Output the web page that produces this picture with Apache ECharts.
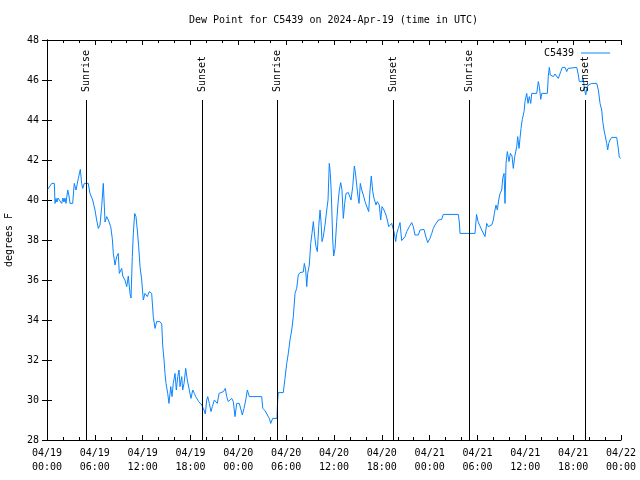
<!DOCTYPE html>
<html>
<head>
<meta charset="utf-8">
<script src="https://cdn.jsdelivr.net/npm/echarts@6/dist/echarts.min.js"></script>
<style>html,body{margin:0;padding:0;background:#fff}#c{width:640px;height:480px}</style>
</head>
<body>
<div id="c"></div>
<script>
// hours since 2024-04-19 00:00 UTC
const hours = [0.10,0.59,0.92,1.00,1.13,1.25,1.38,1.63,1.84,2.01,2.13,2.26,2.38,2.60,2.76,2.89,3.22,3.42,3.64,3.93,4.18,4.35,4.48,4.68,5.18,5.39,5.73,6.02,6.23,6.44,6.65,6.86,7.06,7.28,7.49,7.69,7.99,8.19,8.32,8.53,8.74,8.94,9.07,9.37,9.50,9.78,10.00,10.20,10.41,10.54,10.70,10.83,11.00,11.16,11.33,11.50,11.67,11.88,12.08,12.29,12.58,12.83,13.13,13.33,13.55,13.76,14.17,14.39,14.51,14.68,14.80,14.93,15.14,15.30,15.52,15.68,15.84,16.06,16.22,16.40,16.56,16.68,16.90,17.02,17.19,17.40,17.60,17.85,18.06,18.28,18.48,18.65,18.85,19.03,19.19,19.41,19.69,19.86,20.03,20.16,20.36,20.57,20.74,20.99,21.20,21.36,21.58,21.83,22.12,22.37,22.54,22.74,22.96,23.17,23.37,23.58,23.80,24.12,24.34,24.50,24.71,24.93,25.13,25.38,26.93,27.06,27.35,27.64,27.89,28.06,28.31,28.85,28.91,29.01,29.64,29.85,30.07,30.27,30.48,30.70,30.90,31.11,31.32,31.52,31.74,31.95,32.15,32.28,32.45,32.58,32.70,32.90,33.08,33.24,33.41,33.58,33.74,33.91,34.08,34.25,34.37,34.50,34.66,34.87,35.09,35.25,35.41,35.54,35.66,35.84,35.96,36.13,36.34,36.50,36.67,36.84,37.00,37.17,37.34,37.51,37.80,38.01,38.13,38.35,38.55,38.67,38.85,39.01,39.14,39.30,39.48,39.68,39.89,40.10,40.35,40.52,40.68,40.86,41.02,41.27,41.43,41.68,41.86,42.02,42.27,42.52,42.69,42.86,43.03,43.24,43.44,43.57,43.74,43.87,44.07,44.28,44.49,44.69,44.91,45.12,45.45,45.75,45.95,46.16,46.58,46.79,47.00,47.29,47.50,47.75,48.04,48.26,48.46,48.67,49.09,49.51,49.71,51.59,51.72,51.81,53.69,53.88,54.07,54.23,54.53,54.73,54.94,55.16,55.36,55.57,55.78,55.99,56.11,56.32,56.49,56.66,56.83,57.04,57.16,57.33,57.45,57.58,57.74,57.95,58.12,58.33,58.49,58.67,58.83,58.92,59.04,59.21,59.33,59.46,59.62,59.84,59.96,60.17,60.34,60.50,60.68,60.80,61.43,61.63,61.76,61.93,62.06,62.76,62.88,63.01,63.13,63.31,63.51,63.72,63.94,64.14,64.26,64.44,64.64,64.98,65.19,65.35,65.60,66.45,66.65,66.77,67.07,67.27,67.40,67.58,67.70,67.90,68.11,68.33,68.96,69.16,69.37,69.58,69.71,69.87,70.08,70.21,70.33,70.46,70.62,70.84,71.46,71.63,71.79,71.97];
const dewF = [40.54,40.83,40.83,39.83,40.08,39.9,40.1,40.1,39.83,40.1,39.9,40.1,39.83,40.5,40.2,39.83,39.83,40.83,40.5,41.08,41.53,40.83,40.58,40.83,40.83,40.33,40.0,39.5,39.0,38.58,38.75,39.67,40.83,38.9,39.17,39.0,38.67,38.08,37.33,36.75,37.17,37.33,36.33,36.58,36.2,36.0,35.67,36.2,35.33,35.1,37.17,38.33,39.33,39.17,38.5,37.67,36.67,36.0,35.0,35.33,35.17,35.42,35.33,34.17,33.58,33.92,33.92,33.8,32.75,32.0,31.33,30.83,30.33,29.83,30.67,30.17,30.83,31.33,30.5,31.17,31.5,30.67,31.17,30.5,30.83,31.58,31.0,30.5,30.08,30.5,30.33,30.17,30.17,29.92,29.83,29.75,29.5,29.3,30.0,30.17,29.83,29.42,29.67,30.0,30.08,29.83,30.33,30.33,30.42,30.58,30.17,29.92,29.83,30.08,29.92,29.17,29.83,29.83,29.5,29.25,29.58,30.0,30.5,30.17,30.17,29.58,29.47,29.25,29.08,28.83,29.08,29.08,29.8,30.37,30.37,31.08,31.83,32.33,33.0,33.5,34.17,35.33,35.58,36.25,36.37,36.4,36.4,36.83,36.5,35.67,36.33,36.75,37.83,38.33,38.92,38.17,37.67,37.42,38.67,39.5,38.92,37.92,38.17,38.75,39.5,40.0,41.83,41.33,40.33,38.0,37.2,37.58,38.92,39.83,40.5,40.87,40.5,39.08,39.83,40.33,40.37,40.33,40.0,40.67,41.7,41.42,40.75,40.17,39.83,40.83,40.5,40.25,39.92,39.83,39.42,40.5,41.2,40.42,40.08,39.75,39.92,39.75,39.0,39.67,39.5,39.25,39.0,38.67,38.58,38.83,38.9,38.33,37.92,38.33,38.58,38.87,37.97,37.97,38.17,38.42,38.67,38.87,38.67,38.25,38.25,38.5,38.53,38.53,38.2,37.87,38.08,38.33,38.58,38.75,39.0,39.03,39.28,39.28,38.9,38.33,38.33,39.28,38.92,38.83,38.5,38.42,38.17,38.83,38.67,38.67,38.75,39.0,39.33,39.75,39.5,40.0,40.33,40.5,41.08,41.33,39.83,41.83,42.42,41.92,42.33,42.2,41.58,42.17,42.2,42.67,43.17,42.58,43.08,43.58,44.03,44.42,44.92,45.33,44.83,45.17,44.83,45.33,45.33,45.92,45.67,45.03,45.33,45.33,46.17,46.63,46.25,46.33,46.17,46.3,46.33,46.08,46.17,46.42,46.63,46.63,46.42,46.58,46.63,46.63,46.25,45.92,45.92,46.08,45.58,45.25,45.58,45.75,45.7,45.83,45.83,45.5,44.83,44.5,43.92,43.5,43.42,42.83,42.5,42.83,43.0,43.13,43.13,42.67,42.13,42.08];
const xTickLabels = ['04/19\n00:00','04/19\n06:00','04/19\n12:00','04/19\n18:00','04/20\n00:00','04/20\n06:00','04/20\n12:00','04/20\n18:00','04/21\n00:00','04/21\n06:00','04/21\n12:00','04/21\n18:00','04/22\n00:00'];
const sunTimes = [4.92, 19.43, 28.90, 43.45, 52.88, 67.47];
const sunLabels = ['Sunrise','Sunset','Sunrise','Sunset','Sunrise','Sunset'];
const seriesName = 'C5439';
const titleText = 'Dew Point for C5439 on 2024-Apr-19 (time in UTC)';
const yName = 'degrees F';

const FONT = 'DejaVu Sans Mono';
const lineData = hours.map((h, i) => [h, dewF[i]]);
const sunData = sunTimes.map((t, i) => [t, 45, i]);

const chart = echarts.init(document.getElementById('c'), null, {renderer: 'canvas'});
const baseX = {
  type: 'value', min: 0, max: 72, interval: 6,
  axisLine: {show: true, lineStyle: {color: '#000', width: 1}},
  axisTick: {show: true, inside: true, length: 5, lineStyle: {color: '#000'}},
  minorTick: {show: true, splitNumber: 3, length: 3, lineStyle: {color: '#000'}},
  splitLine: {show: false}
};
const baseY = {
  type: 'value', min: 28, max: 48, interval: 2,
  axisLine: {show: true, lineStyle: {color: '#000', width: 1}},
  axisTick: {show: true, inside: true, length: 5, lineStyle: {color: '#000'}},
  splitLine: {show: false}
};
chart.setOption({
  animation: false,
  backgroundColor: '#fff',
  title: {
    text: titleText, left: 189, top: 15, padding: 0,
    textStyle: {fontFamily: FONT, fontSize: 10, fontWeight: 'normal', color: '#000'}
  },
  legend: {
    data: [seriesName], right: 25, top: 43, align: 'right',
    icon: 'rect', itemWidth: 29, itemHeight: 1, itemGap: 0,
    textStyle: {fontFamily: FONT, fontSize: 10, color: '#000', padding: [0, 2, 0, 0]}
  },
  grid: {left: 47, right: 19, top: 40, bottom: 40, containLabel: false, outerBoundsMode: 'none'},
  xAxis: [
    Object.assign({}, baseX, {
      position: 'bottom',
      axisLabel: {
        fontFamily: FONT, fontSize: 10, color: '#000', lineHeight: 14, margin: 6,
        formatter: v => xTickLabels[Math.round(v / 6)]
      }
    }),
    Object.assign({}, baseX, {position: 'top', axisLabel: {show: false}})
  ],
  yAxis: [
    Object.assign({}, baseY, {
      position: 'left',
      name: yName, nameLocation: 'middle', nameRotate: 90, nameGap: 33,
      nameTextStyle: {fontFamily: FONT, fontSize: 10, color: '#000'},
      axisLabel: {fontFamily: FONT, fontSize: 10, color: '#000', margin: 8}
    }),
    Object.assign({}, baseY, {position: 'right', axisLabel: {show: false}})
  ],
  series: [
    {
      name: seriesName, type: 'line', xAxisIndex: 0, yAxisIndex: 0,
      data: lineData, showSymbol: false, symbol: 'none',
      lineStyle: {color: '#0a84ff', width: 1}, itemStyle: {color: '#0a84ff'},
      z: 2
    },
    {
      type: 'custom', xAxisIndex: 0, yAxisIndex: 0, silent: true, z: 3,
      data: sunData,
      renderItem: function (params, api) {
        const t = api.value(0);
        const idx = api.value(2);
        const top = api.coord([t, api.value(1)]);
        const bot = api.coord([t, 28]);
        const txt = api.coord([t, 45.4]);
        const px = Math.round(top[0]) + 0.5;
        return {
          type: 'group',
          children: [
            {type: 'line', shape: {x1: px, y1: Math.round(top[1]), x2: px, y2: Math.round(bot[1])},
             style: {stroke: '#000', lineWidth: 1}},
            {type: 'text', x: px, y: txt[1], rotation: Math.PI / 2,
             style: {text: sunLabels[idx], font: '10px "DejaVu Sans Mono"', fill: '#000',
                     align: 'left', verticalAlign: 'middle'}}
          ]
        };
      }
    }
  ]
});
</script>
</body>
</html>
